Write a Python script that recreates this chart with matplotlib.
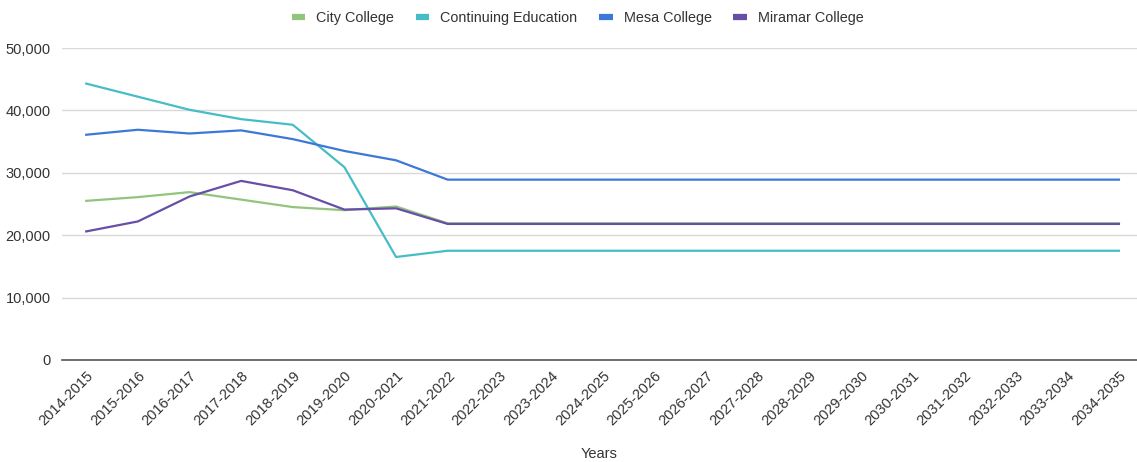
import matplotlib
matplotlib.use("Agg")
import matplotlib.pyplot as plt
from matplotlib.lines import Line2D
from matplotlib.ticker import FuncFormatter

plt.rcParams["font.family"] = ["Liberation Sans", "DejaVu Sans"]

years = [f"{y}-{y + 1}" for y in range(2014, 2035)]

city = [25500, 26100, 26900, 25700, 24500, 24000, 24600] + [21900] * 14
continuing = [44300, 42200, 40100, 38600, 37700, 30900, 16500] + [17500] * 14
mesa = [36100, 36900, 36300, 36800, 35400, 33500, 32000] + [28900] * 14
miramar = [20600, 22200, 26200, 28700, 27200, 24100, 24300] + [21800] * 14

series = [
    ("City College", city, "#93c47d"),
    ("Continuing Education", continuing, "#46bdc6"),
    ("Mesa College", mesa, "#3c78d8"),
    ("Miramar College", miramar, "#674ea7"),
]

fig = plt.figure(figsize=(11.37, 4.62), dpi=100)
ax = fig.add_axes([0.0545, 0.221, 0.9455, 0.675])

x = list(range(len(years)))
for name, vals, color in series:
    ax.plot(x, vals, color=color, lw=1.6, solid_joinstyle="round")

ax.set_ylim(0, 50000)
ax.set_yticks(range(0, 50001, 10000))
ax.yaxis.set_major_formatter(FuncFormatter(lambda v, _: f"{int(v):,}"))
ax.set_xlim(-0.47, 20.35)
ax.set_xticks(x)
ax.set_xticklabels(years, rotation=45, ha="right", rotation_mode="anchor")

ax.grid(axis="y", color="#d9d9d9", lw=1)
ax.set_axisbelow(True)
for side in ["top", "right", "left"]:
    ax.spines[side].set_visible(False)
ax.spines["bottom"].set_color("#555555")
ax.spines["bottom"].set_linewidth(1.2)
ax.tick_params(axis="both", length=0, labelsize=10.5, colors="#333333")
ax.tick_params(axis="x", pad=6)
ax.tick_params(axis="y", pad=8)

ax.set_xlabel("Years", fontsize=10.5, color="#333333", labelpad=14)

handles = [Line2D([], [], color=c, lw=4.5, solid_capstyle="butt") for _, _, c in series]
fig.legend(handles, [n for n, _, _ in series], loc="upper center",
           bbox_to_anchor=(0.508, 1.005), ncol=4, frameon=False,
           fontsize=10.4, handlelength=0.95, handletextpad=0.75, columnspacing=1.5,
           labelcolor="#333333")

fig.savefig("out.png", dpi=100)
